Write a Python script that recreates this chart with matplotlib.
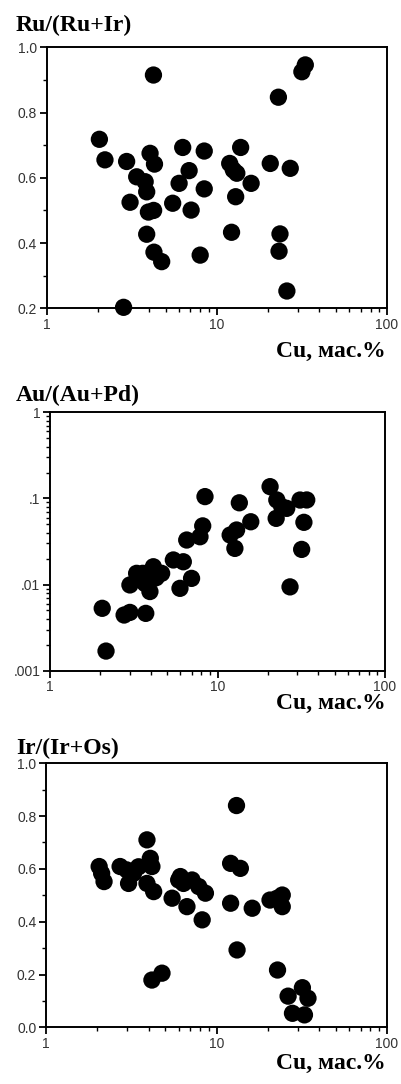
import numpy as np
import matplotlib
matplotlib.use('Agg')
import matplotlib.pyplot as plt
from matplotlib.ticker import FixedLocator, NullFormatter

# panel 1: Ru/(Ru+Ir) vs Cu
cu1 = [2.04, 2.2, 2.95, 3.38, 3.79, 3.87, 3.09, 3.96, 4.25, 4.05, 4.3, 4.24,
       3.87, 4.27, 4.74, 2.83, 5.5, 6.0, 6.3, 6.87, 7.06, 7.98, 8.43, 8.43,
       11.9, 12.5, 13.1, 12.2, 12.9, 13.8, 15.9, 20.6, 23.0, 23.5, 23.2,
       27.0, 25.8, 31.6, 33.1]
ru = [0.718, 0.655, 0.650, 0.603, 0.588, 0.557, 0.525, 0.495, 0.500, 0.675,
      0.642, 0.915, 0.427, 0.372, 0.343, 0.203, 0.522, 0.583, 0.693, 0.622,
      0.501, 0.363, 0.682, 0.566, 0.644, 0.624, 0.614, 0.433, 0.542, 0.693,
      0.583, 0.644, 0.847, 0.428, 0.375, 0.629, 0.253, 0.925, 0.946]

# panel 2: Au/(Au+Pd) vs Cu
cu2 = [2.05, 2.16, 2.77, 3.0, 3.0, 3.29, 3.58, 3.69, 3.95, 4.14, 4.64, 4.3,
       3.73, 8.42, 8.16, 7.86, 6.55, 5.97, 7.0, 5.45, 6.25, 11.9, 13.0, 12.7,
       13.5, 15.8, 20.6, 22.6, 22.4, 24.2, 25.9, 27.1, 31.1, 34.1, 32.8, 31.8]
au = [0.0053, 0.00169, 0.00443, 0.00475, 0.0099, 0.0135, 0.0135, 0.0103,
      0.0083, 0.0161, 0.0135, 0.012, 0.00463, 0.105, 0.048, 0.0359, 0.0329,
      0.00904, 0.0118, 0.0193, 0.0184, 0.0376, 0.043, 0.0263, 0.089, 0.0536,
      0.137, 0.096, 0.0587, 0.080, 0.0767, 0.0094, 0.0958, 0.096, 0.0528,
      0.0256]

# panel 3: Ir/(Ir+Os) vs Cu
cu3 = [2.05, 2.12, 2.19, 2.72, 2.98, 3.05, 3.26, 3.49, 3.91, 4.09, 4.18, 3.91,
       4.28, 4.18, 4.79, 5.49, 6.0, 6.14, 6.4, 6.71, 7.19, 7.87, 8.61, 8.24,
       12.1, 13.8, 12.1, 13.1, 13.2, 16.2, 20.6, 22.7, 24.3, 24.3, 22.8,
       26.3, 31.9, 34.4, 27.9, 32.8]
ir = [0.609, 0.583, 0.552, 0.609, 0.596, 0.545, 0.583, 0.608, 0.710, 0.640,
      0.609, 0.545, 0.514, 0.179, 0.205, 0.489, 0.558, 0.571, 0.545, 0.457,
      0.558, 0.533, 0.508, 0.407, 0.621, 0.602, 0.470, 0.840, 0.293, 0.451,
      0.482, 0.489, 0.501, 0.457, 0.217, 0.118, 0.150, 0.110, 0.053, 0.047]

W, H = 401, 1084
fig = plt.figure(figsize=(W / 100, H / 100), dpi=100)
serif = ['Liberation Serif', 'DejaVu Serif']
sans = ['Liberation Sans', 'DejaVu Sans']


def px_axes(left, right, top, bottom):
    return fig.add_axes([left / W, 1 - bottom / H, (right - left) / W, (bottom - top) / H])


def style(ax):
    ax.set_xscale('log')
    ax.set_xlim(1, 100)
    ax.set_xticks([1, 10, 100])
    ax.set_xticklabels(['1', '10', '100'])
    ax.xaxis.set_minor_locator(FixedLocator([k * 10 ** d for d in (0, 1) for k in range(2, 10)]))
    ax.xaxis.set_minor_formatter(NullFormatter())
    for s in ax.spines.values():
        s.set_linewidth(1.4)
    ax.tick_params(which='major', direction='out', length=5, width=1.3, pad=2,
                   labelsize=10, labelcolor='#333333')
    ax.tick_params(which='minor', direction='out', length=3, width=1.0)
    for lab in ax.get_xticklabels() + ax.get_yticklabels():
        lab.set_family(sans)


# panel 1
ax1 = px_axes(46.7, 387, 47.3, 308.3)
ax1.scatter(cu1, ru, s=155, color='black', edgecolors='none', clip_on=False, zorder=3)
ax1.set_ylim(0.2, 1.0)
ax1.set_yticks([0.2, 0.4, 0.6, 0.8, 1.0])
ax1.set_yticklabels(['0.2', '0.4', '0.6', '0.8', '1.0'])
ax1.yaxis.set_minor_locator(FixedLocator([0.3, 0.5, 0.7, 0.9]))
style(ax1)

# panel 2
ax2 = px_axes(50, 385, 412.3, 670.7)
ax2.scatter(cu2, au, s=155, color='black', edgecolors='none', clip_on=False, zorder=3)
ax2.set_yscale('log')
ax2.set_ylim(0.001, 1)
ax2.set_yticks([0.001, 0.01, 0.1, 1])
ax2.set_yticklabels(['.001', '.01', '.1', '1'])
ax2.yaxis.set_minor_locator(FixedLocator([k * 10.0 ** d for d in (-3, -2, -1) for k in range(2, 10)]))
ax2.yaxis.set_minor_formatter(NullFormatter())
style(ax2)

# panel 3
ax3 = px_axes(46, 387, 763.3, 1027.3)
ax3.scatter(cu3, ir, s=155, color='black', edgecolors='none', clip_on=False, zorder=3)
ax3.set_ylim(0.0, 1.0)
ax3.set_yticks([0.0, 0.2, 0.4, 0.6, 0.8, 1.0])
ax3.set_yticklabels(['0.0', '0.2', '0.4', '0.6', '0.8', '1.0'])
ax3.yaxis.set_minor_locator(FixedLocator([0.1, 0.3, 0.5, 0.7, 0.9]))
style(ax3)

# titles and axis labels
for txt, y in [('Ru/(Ru+Ir)', 25), ('Au/(Au+Pd)', 395), ('Ir/(Ir+Os)', 748)]:
    fig.text(16 / W, 1 - y / H, txt, family=serif, weight='bold', fontsize=17,
             ha='left', va='center')
for y in (351, 703, 1063):
    fig.text(386 / W, 1 - y / H, 'Cu, мас.%', family=serif, weight='bold',
             fontsize=17, ha='right', va='center')

fig.savefig('out.png', dpi=100)
